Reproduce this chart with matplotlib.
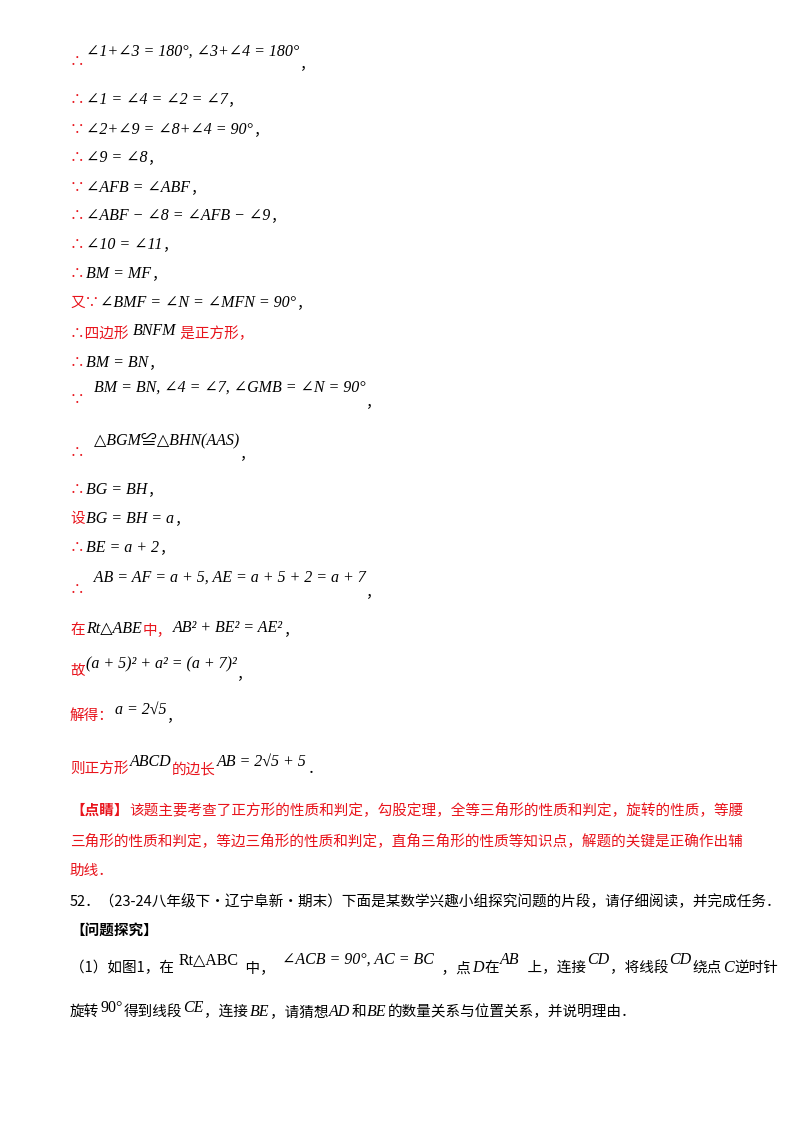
import matplotlib
matplotlib.use("Agg")
import matplotlib.pyplot as plt

RED = "#e8141c"
CJK = ['Noto Sans CJK SC', 'DejaVu Sans']
MATH = ['Liberation Serif', 'DejaVu Serif', 'Noto Sans CJK SC', 'DejaVu Sans']

# each line: (x, y_top_px, segments) ; segment=(text, kind, dy)
lines = [
    (70, 52, [("∴", "r", 10), ("∠1+∠3 = 180°, ∠3+∠4 = 180°", "m", 0), ("，", "k", 12)]),
    (70, 100, [("∴", "r", 0), ("∠1 = ∠4 = ∠2 = ∠7", "m", 0), ("，", "k", 0)]),
    (70, 130, [("∵", "r", 0), ("∠2+∠9 = ∠8+∠4 = 90°", "m", 0), ("，", "k", 0)]),
    (70, 158, [("∴", "r", 0), ("∠9 = ∠8", "m", 0), ("，", "k", 0)]),
    (70, 188, [("∵", "r", 0), ("∠AFB = ∠ABF", "m", 0), ("，", "k", 0)]),
    (70, 216, [("∴", "r", 0), ("∠ABF − ∠8 = ∠AFB − ∠9", "m", 0), ("，", "k", 0)]),
    (70, 245, [("∴", "r", 0), ("∠10 = ∠11", "m", 0), ("，", "k", 0)]),
    (70, 274, [("∴", "r", 0), ("BM = MF", "m", 0), ("，", "k", 0)]),
    (70, 303, [("又∵", "r", 0), ("∠BMF = ∠N = ∠MFN = 90°", "m", 0), ("，", "k", 0)]),
    (70, 334, [("∴四边形 ", "r", 0), ("BNFM", "m", -3), (" 是正方形，", "r", 0)]),
    (70, 363, [("∴", "r", 0), ("BM = BN", "m", 0), ("，", "k", 0)]),
    (70, 388, [("∵", "r", 12), ("  BM = BN, ∠4 = ∠7, ∠GMB = ∠N = 90°", "m", 0), ("，", "k", 14)]),
    (70, 440, [("∴", "r", 13), ("  △BGM≌△BHN(AAS)", "m", 0), ("，", "k", 14)]),
    (70, 490, [("∴", "r", 0), ("BG = BH", "m", 0), ("，", "k", 0)]),
    (70, 519, [("设", "r", 0), ("BG = BH = a", "m", 0), ("，", "k", 0)]),
    (70, 548, [("∴", "r", 0), ("BE = a + 2", "m", 0), ("，", "k", 0)]),
    (70, 578, [("∴", "r", 12), ("  AB = AF = a + 5, AE = a + 5 + 2 = a + 7", "m", 0), ("，", "k", 14)]),
    (70, 630, [("在", "r", 0), ("Rt△ABE", "m", -2), ("中，", "r", 0), ("AB² + BE² = AE²", "m", -2), ("，", "k", 0)]),
    (70, 666, [("故", "r", 4), ("(a + 5)² + a² = (a + 7)²", "m", -2), ("，", "k", 8)]),
    (70, 716, [("解得：", "r", 0), ("a = 2√5", "m", -6), ("，", "k", 0)]),
    (70, 769, [("则正方形", "r", 0), ("ABCD", "m", -7), ("的边长", "r", 0), ("AB = 2√5 + 5", "m", -7), ("．", "k", 0)]),
    (70, 810, [("【点睛】", "rb", 0), ("该题主要考查了正方形的性质和判定，勾股定理，全等三角形的性质和判定，旋转的性质，等腰", "r", 0)]),
    (70, 841, [("三角形的性质和判定，等边三角形的性质和判定，直角三角形的性质等知识点，解题的关键是正确作出辅", "r", 0)]),
    (70, 871, [("助线．", "r", 0)]),
    (70, 902, [("52．（23-24八年级下·辽宁阜新·期末）下面是某数学兴趣小组探究问题的片段，请仔细阅读，并完成任务．", "k", 0)]),
    (70, 930, [("【问题探究】", "kb", 0)]),
    (70, 968, [("（1）如图1，在 ", "k", 0), ("Rt△ABC", "mr", -8), ("  中，  ", "k", 0), ("∠ACB = 90°, AC = BC", "m", -8),
               ("  ，点", "k", 0), ("D", "m", 0), ("在", "k", 0), ("AB", "m", -8), ("  上，连接", "k", 0),
               ("CD", "m", -8), ("，将线段", "k", 0), ("CD", "m", -8), ("绕点", "k", 0), ("C", "m", 0), ("逆时针", "k", 0)]),
    (70, 1012, [("旋转", "k", 0), ("90°", "mr", -4), ("得到线段", "k", 0), ("CE", "m", -4), ("，连接", "k", 0), ("BE", "m", 0),
                ("，请猜想", "k", 0), ("AD", "m", 0), ("和", "k", 0), ("BE", "m", 0), ("的数量关系与位置关系，并说明理由．", "k", 0)]),
]

W, H = 800, 1132
fig = plt.figure(figsize=(W / 100, H / 100), dpi=100)
fig.patch.set_facecolor("white")
fig.canvas.draw()
r = fig.canvas.get_renderer()

for x0, y0, segs in lines:
    x = x0
    for text, kind, dy in segs:
        kw = dict(va="center", ha="left")
        if kind.startswith("m"):
            kw.update(family=MATH, fontsize=11.5, color="black",
                      style="normal" if kind == "mr" else "italic")
        else:
            kw.update(family=CJK, fontsize=10.5, color=RED if kind.startswith("r") else "black",
                      weight="bold" if kind.endswith("b") else "normal")
        t = fig.text(x / W, 1 - (y0 + dy) / H, text, **kw)
        bb = t.get_window_extent(renderer=r)
        x += bb.width + 1

fig.savefig("out.png", dpi=100, facecolor="white")
